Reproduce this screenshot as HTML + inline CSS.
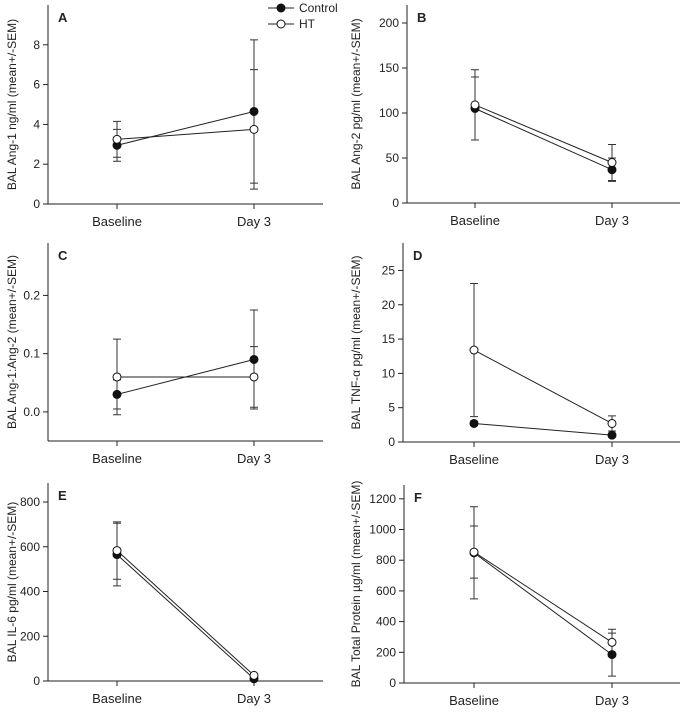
<!DOCTYPE html>
<html><head><meta charset="utf-8"><style>
html,body{margin:0;padding:0;background:#fff;}
svg text{font-family:"Liberation Sans",Arial,sans-serif;fill:#222;}
</style></head><body>
<svg id="fig" width="685" height="710" xmlns="http://www.w3.org/2000/svg"></svg>
<script>
const categories = ["Baseline", "Day 3"];
const seriesNames = ["Control", "HT"];
const panelLetters = ["A","B","C","D","E","F"];
const panelTitles = ["BAL Ang-1 ng/ml (mean+/-SEM)","BAL Ang-2 pg/ml (mean+/-SEM)","BAL Ang-1:Ang-2 (mean+/-SEM)","BAL TNF-\u03b1 pg/ml (mean+/-SEM)","BAL IL-6 pg/ml (mean+/-SEM)","BAL Total Protein \u00b5g/ml (mean+/-SEM)"];
const controlMeans = [[2.95,4.65],[105,37],[0.03,0.09],[2.7,1.0],[565,10],[848,185]];
const controlSem   = [[0.8,3.6],[35,13],[0.025,0.085],[0.3,0.2],[140,8],[300,140]];
const htMeans      = [[3.25,3.75],[109,45],[0.06,0.06],[13.4,2.7],[583,25],[853,265]];
const htSem        = [[0.9,3.0],[39,20],[0.065,0.052],[9.7,1.1],[128,8],[170,85]];
const yMin = [0,0,-0.05,0,0,0];
const yMax = [10,220,0.29,29,885,1290];
const yTicks = [[0,2,4,6,8],[0,50,100,150,200],[0.0,0.1,0.2],[0,5,10,15,20,25],[0,200,400,600,800],[0,200,400,600,800,1000,1200]];
const yTickLabels = [["0","2","4","6","8"],["0","50","100","150","200"],["0.0","0.1","0.2"],["0","5","10","15","20","25"],["0","200","400","600","800"],["0","200","400","600","800","1000","1200"]];

const layout = [
 {ax:48,top:5,bottom:204,right:323,c0:117,c1:254,tx:12},
 {ax:407,top:5,bottom:203,right:680,c0:475,c1:612,tx:356},
 {ax:48,top:243,bottom:441,right:323,c0:117,c1:254,tx:12},
 {ax:403,top:243,bottom:442,right:680,c0:474,c1:612,tx:356},
 {ax:48,top:483,bottom:681,right:323,c0:117,c1:254,tx:12},
 {ax:404,top:485,bottom:683,right:680,c0:474,c1:612,tx:356}
];
const NS="http://www.w3.org/2000/svg";
const svg=document.getElementById('fig');
function mk(tag,attrs,parent){const e=document.createElementNS(NS,tag);for(const k in attrs)e.setAttribute(k,attrs[k]);(parent||svg).appendChild(e);return e;}

for(let p=0;p<6;p++){
  const L=layout[p];
  const g=mk('g',{});
  
  
  const y=v=>L.bottom-(v-yMin[p])/(yMax[p]-yMin[p])*(L.bottom-L.top);
  const x=i=>i===0?L.c0:L.c1;
  const ya=mk('line',{x1:L.ax,y1:L.top,x2:L.ax,y2:L.bottom,stroke:'#222','stroke-width':1},g);
  
  
  const xa=mk('line',{x1:L.ax,y1:L.bottom,x2:L.right,y2:L.bottom,stroke:'#222','stroke-width':1},g);
  
  
  yTicks[p].forEach((t,i)=>{
    const yy=y(t);
    mk('line',{x1:L.ax-5,y1:yy,x2:L.ax,y2:yy,stroke:'#222'},g);
    const tl=mk('text',{x:L.ax-8,y:yy+4,'font-size':12,'text-anchor':'end'},g);
    tl.textContent=yTickLabels[p][i];
    
    
  });
  categories.forEach((c,i)=>{
    mk('line',{x1:x(i),y1:L.bottom,x2:x(i),y2:L.bottom+5,stroke:'#222'},g);
    const cl=mk('text',{x:x(i),y:L.bottom+22,'font-size':13,'text-anchor':'middle'},g);
    cl.textContent=c;
    
    
  });
  const cy=(L.top+L.bottom)/2;
  const tt=mk('text',{x:L.tx,y:cy,'font-size':12,'text-anchor':'middle',transform:`rotate(-90 ${L.tx} ${cy})`,dy:4},g);
  tt.textContent=panelTitles[p];
  
  
  const lt=mk('text',{x:L.ax+10,y:L.top+17,'font-size':13,'font-weight':'bold'},g);
  lt.textContent=panelLetters[p];
  
  
  const sets=[[controlMeans[p],controlSem[p],'#111'],[htMeans[p],htSem[p],'#fff']];
  sets.forEach(([m,s])=>{
    for(let i=0;i<2;i++){
      const hi=y(m[i]+s[i]),lo=y(m[i]-s[i]);
      const eb=mk('path',{d:`M${x(i)},${hi}V${lo}M${x(i)-4},${hi}H${x(i)+4}M${x(i)-4},${lo}H${x(i)+4}`,stroke:'#333',fill:'none','stroke-width':1},g);
      
      
    }
  });
  sets.forEach(([m,s,f],k)=>{
    const ln=mk('line',{x1:x(0),y1:y(m[0]),x2:x(1),y2:y(m[1]),stroke:'#222','stroke-width':1},g);
    
    
  });
  sets.forEach(([m,s,f],k)=>{
    for(let i=0;i<2;i++){
      const pt=mk('circle',{cx:x(i),cy:y(m[i]),r:4,fill:f,stroke:'#111','stroke-width':1},g);
      
      
    }
  });
}
const lg=mk('g',{});


seriesNames.forEach((n,k)=>{
  const yy=8+k*16;
  mk('line',{x1:268,y1:yy,x2:294,y2:yy,stroke:'#222'},lg);
  mk('circle',{cx:281,cy:yy,r:4,fill:k===0?'#111':'#fff',stroke:'#111'},lg);
  const t=mk('text',{x:299,y:yy+4,'font-size':12},lg);
  t.textContent=n;
  
  
});
</script>
</body></html>
